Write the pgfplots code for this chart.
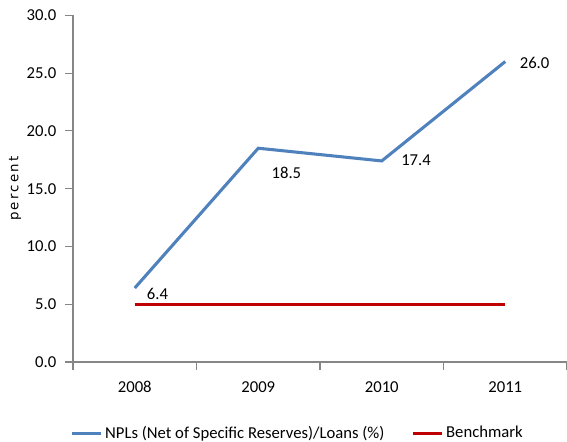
\documentclass[border=0pt]{standalone}
\usepackage{pgfplots}
\pgfplotsset{compat=1.18}
\usepackage{fontspec}
\setmainfont{Carlito}
\newfontfamily\labfont[LetterSpace=16]{DejaVu Sans}
\definecolor{nplblue}{HTML}{4F81BD}
\definecolor{benchred}{HTML}{C00000}
\definecolor{axgray}{HTML}{868686}
\begin{document}
\begin{tikzpicture}
\begin{axis}[
  at={(0,0)}, anchor=south west,
  scale only axis,
  width=370.5pt, height=260pt,
  xmin=-0.5, xmax=3.5,
  ymin=0, ymax=30,
  axis x line*=bottom, axis y line*=left,
  axis line style={draw=axgray, line width=0.9pt, -},
  ytick={0,5,...,30},
  yticklabel style={/pgf/number format/fixed, /pgf/number format/precision=1, /pgf/number format/fixed zerofill, xshift=-3pt},
  /pgf/number format/assume math mode=true,
  ytick style={draw=axgray, line width=0.9pt},
  tick align=outside,
  major tick length=6pt,
  xtick={-0.5,0.5,1.5,2.5,3.5},
  xticklabels={},
  xtick style={draw=axgray, line width=0.9pt},
  extra x ticks={0,1,2,3},
  extra x tick labels={2008,2009,2010,2011},
  extra x tick style={major tick length=0pt, xticklabel style={yshift=-11pt}},
  tick label style={font=\fontsize{12.5}{14}\selectfont},
  ylabel={percent},
  ylabel style={font=\labfont\fontsize{10}{12}\selectfont, at={(axis description cs:-0.117,0.5)}, anchor=center},
  legend style={draw=none, fill=none, at={(0.455,-0.205)}, anchor=center, font=\fontsize{12.5}{14}\selectfont, legend columns=2, /tikz/every even column/.append style={column sep=18pt}},
  legend image code/.code={\draw[#1, line width=2.3pt] (0pt,0pt) -- (22pt,0pt);},
  clip=false,
]
\addplot[nplblue, line width=2.3pt] coordinates {(0,6.4) (1,18.5) (2,17.4) (3,26.0)};
\addlegendentry{NPLs (Net of Specific Reserves)/Loans (\%)}
\addplot[benchred, line width=2.3pt] coordinates {(0,5.0) (1,5.0) (2,5.0) (3,5.0)};
\addlegendentry{Benchmark}
\node[font=\fontsize{12.5}{14}\selectfont, anchor=west] at (axis cs:0.06,5.9) {6.4};
\node[font=\fontsize{12.5}{14}\selectfont, anchor=north west] at (axis cs:1.07,17.3) {18.5};
\node[font=\fontsize{12.5}{14}\selectfont, anchor=west] at (axis cs:2.12,17.5) {17.4};
\node[font=\fontsize{12.5}{14}\selectfont, anchor=west] at (axis cs:3.08,25.9) {26.0};
\end{axis}
\pgfresetboundingbox
\useasboundingbox (-54.75pt,-60pt) rectangle (370.5pt,271.5pt);
\end{tikzpicture}
\end{document}
